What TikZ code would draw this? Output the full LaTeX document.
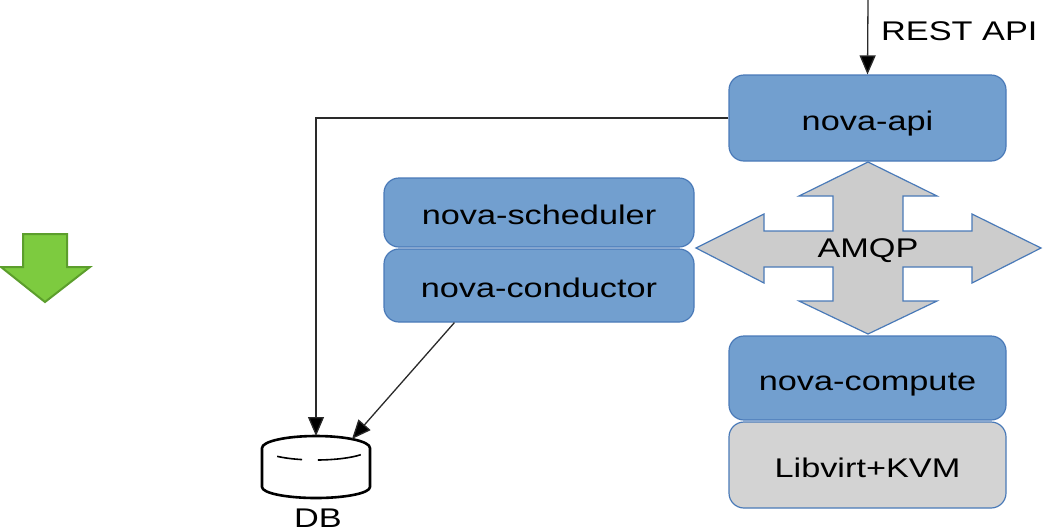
\documentclass[tikz,border=0pt]{standalone}
\usepackage{fontspec}
\setmainfont{Liberation Sans}[FakeStretch=1.27]
\usetikzlibrary{arrows.meta,calc}
\definecolor{boxfill}{HTML}{729FCF}
\definecolor{boxline}{HTML}{4A7AB8}
\definecolor{grayfill}{HTML}{CCCCCC}
\definecolor{libfill}{HTML}{D3D3D3}
\definecolor{greenfill}{HTML}{7DCB3F}
\definecolor{greenline}{HTML}{5C9E2C}
\definecolor{conn}{HTML}{2A2A2A}
\tikzset{
  bluebox/.style={draw=boxline, line width=1.2pt, fill=boxfill, rounded corners=15pt,
    minimum width=#1, inner sep=0pt, font=\fontsize{27}{30}\selectfont,
    text height=24pt, text depth=0pt},
  graybox/.style={bluebox=#1, fill=libfill},
  connector/.style={draw=conn, line width=1.3pt, -{Triangle[length=19pt,width=16pt,fill=black]}},
  lbl/.style={font=\fontsize{27}{30}\selectfont, inner sep=0pt, text height=24pt, text depth=0pt}
}
\begin{document}
\begin{tikzpicture}[x=1pt,y=-1pt]
\useasboundingbox (0,0) rectangle (1047,531);
% green arrow
\draw[fill=greenfill, draw=greenline, line width=2pt, line join=miter]
  (23,234) -- (67,234) -- (67,267) -- (90,267) -- (45,302) -- (1,267) -- (23,267) -- cycle;
% AMQP cross
\draw[fill=grayfill, draw=boxline, line width=1.2pt, line join=miter]
  (868,162) -- (937,196) -- (903,196) -- (903,231) -- (972,231) -- (972,214) -- (1041,248)
  -- (972,283) -- (972,267) -- (903,267) -- (903,301) -- (937,301) -- (868,334)
  -- (799,301) -- (833,301) -- (833,267) -- (764,267) -- (764,283) -- (696,248)
  -- (764,214) -- (764,231) -- (833,231) -- (833,196) -- (799,196) -- cycle;
\node[lbl] (amqp) at (868,245) {AMQP};
% boxes
\node[bluebox=277pt, minimum height=86pt] (api) at (867.5,118) {nova-api};
\node[bluebox=310pt, minimum height=69pt] (sched) at (539,212.5) {nova-scheduler};
\node[bluebox=310pt, minimum height=73pt] (cond) at (539,285.5) {nova-conductor};
\node[bluebox=277pt, minimum height=84pt] (compute) at (867.5,378) {nova-compute};
\node[graybox=277pt, minimum height=86pt] (libvirt) at (867.5,465) {Libvirt+KVM};
% DB
\draw[line width=2.6pt, black, line join=round]
  (262,448) arc[start angle=180,end angle=0,x radius=54pt,y radius=12pt]
  -- (370,487) arc[start angle=0,end angle=-180,x radius=54pt,y radius=11pt] -- cycle;
\draw[line width=1.6pt, black] (316,448) ++(224:54pt and 12pt)
  arc[start angle=224,end angle=255,x radius=54pt,y radius=12pt];
\draw[line width=1.6pt, black] (316,448) ++(272:54pt and 12pt)
  arc[start angle=272,end angle=326,x radius=54pt,y radius=12pt];
\coordinate (dbA) at (316,436);
\coordinate (dbB) at (352,439);
\node[lbl] (dblabel) at (318,515) {DB};
% connectors
\coordinate (restsrc) at (868,0);
\draw[connector] (restsrc) -- (api.north);
\node[lbl, anchor=west] (rest) at (881,28) {REST API};
\draw[connector] (api.west) -| (dbA);
\draw[connector] ([xshift=71pt]cond.south west) -- (dbB);
\end{tikzpicture}
\end{document}
